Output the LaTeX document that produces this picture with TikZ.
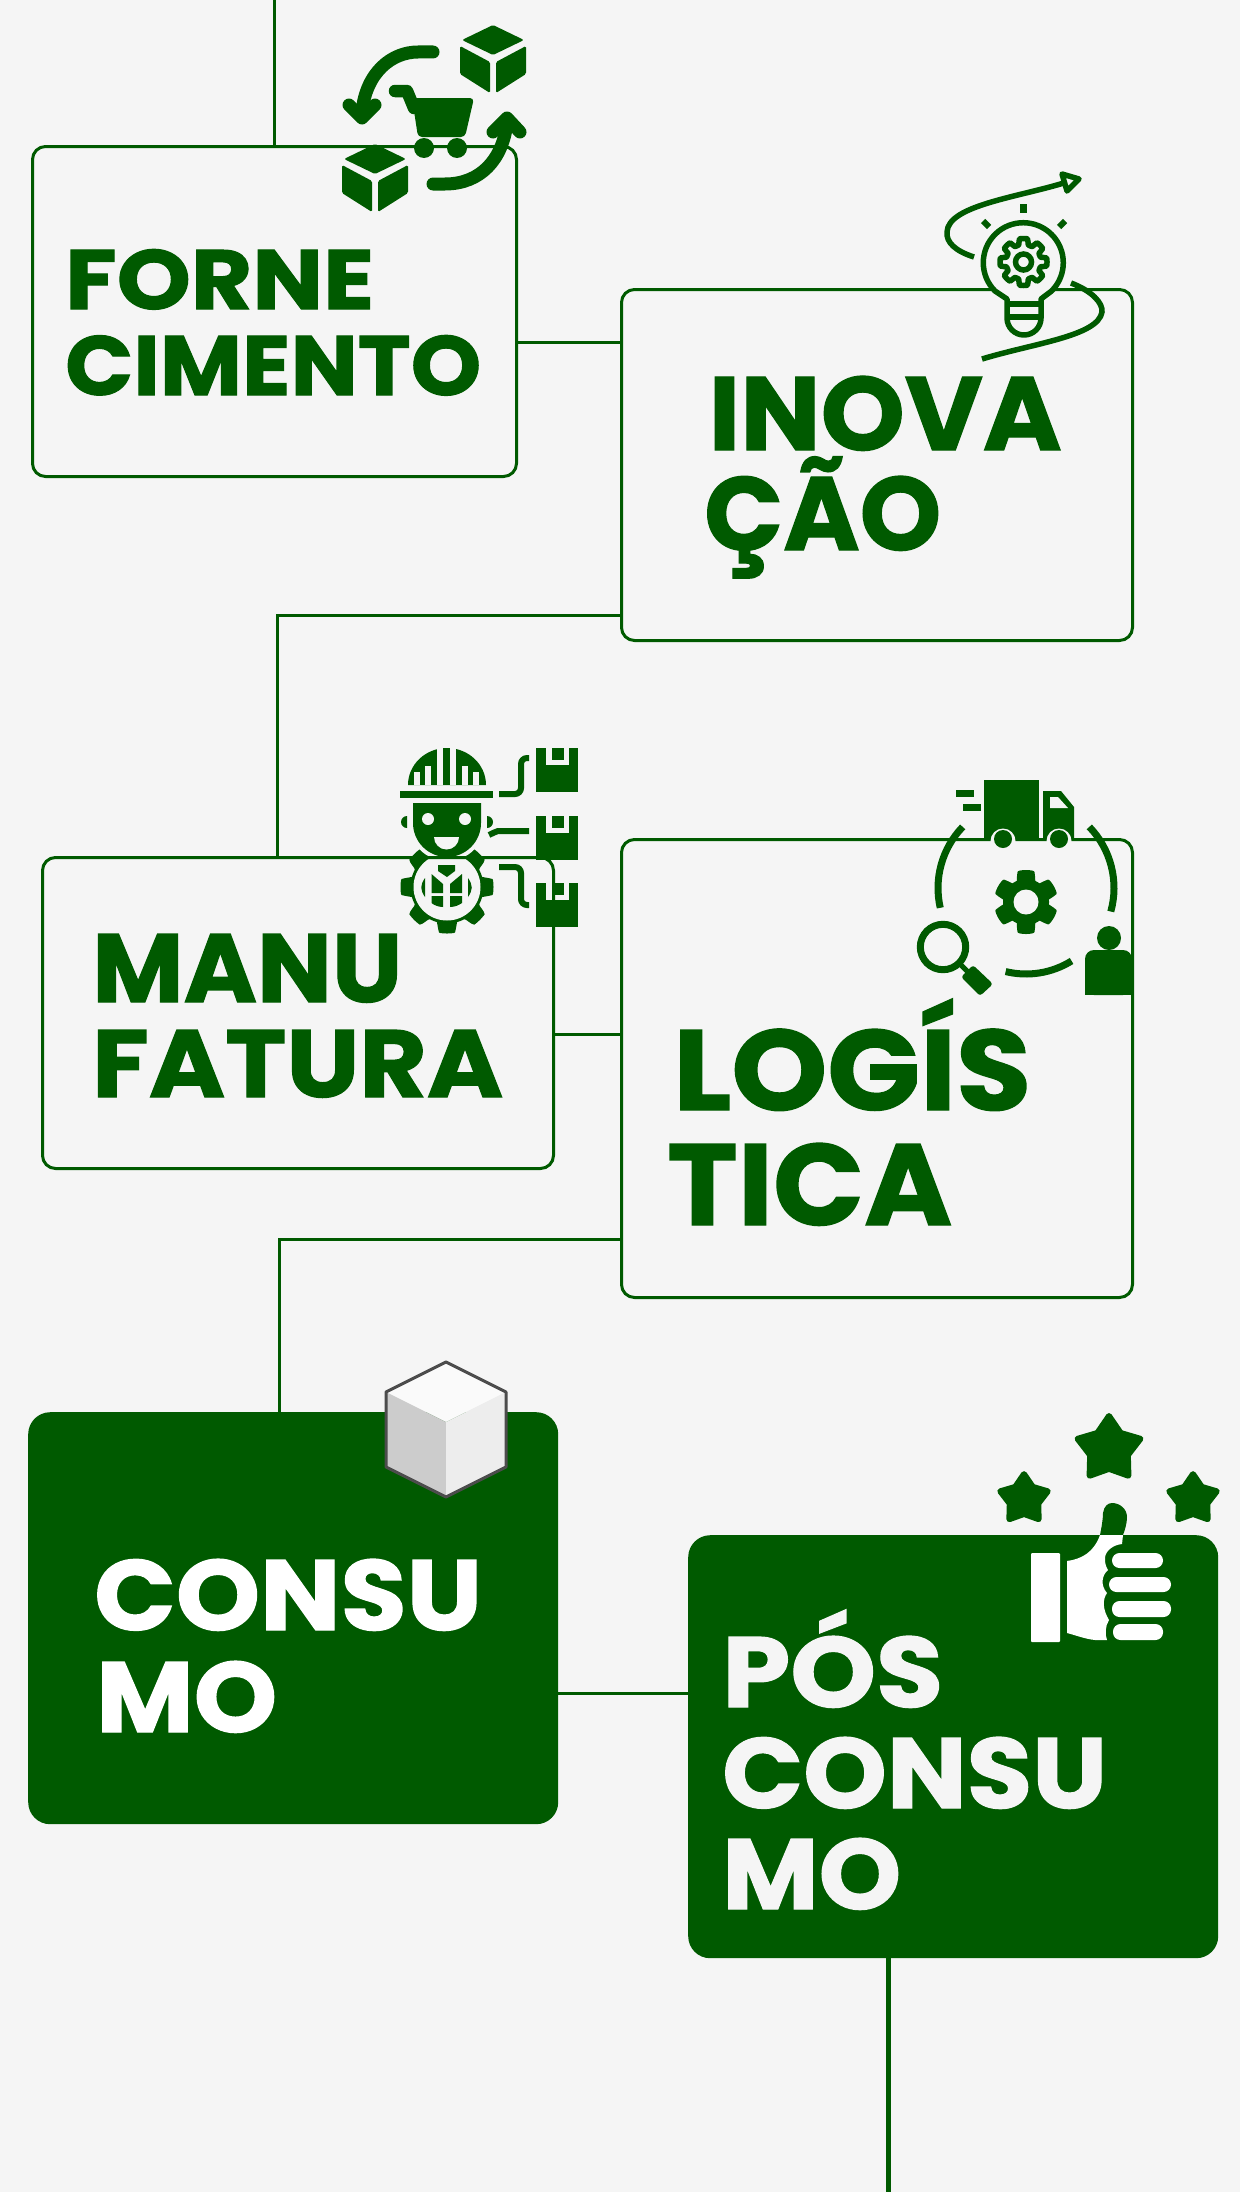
\documentclass[tikz,border=0pt]{standalone}
\usepackage{fontspec}
\usepackage{graphicx}
\setmainfont{Poppins}
\newfontfamily\ttl[BoldFeatures={FakeBold=1.2}]{Poppins}
\definecolor{gr}{HTML}{005A00}
\definecolor{bgc}{HTML}{F5F5F5}
\newcommand\capfix[1]{\setbox0=\hbox{#1}\setbox2=\hbox{H}\ht0=\ht2 \dp0=0pt \box0 }
\newcommand\ttxt[3]{\resizebox{#1pt}{#2pt}{\capfix{#3}}}
\usetikzlibrary{calc}
\tikzset{
 outlinebox/.style={draw=gr,line width=3pt,rounded corners=13pt,inner sep=0pt,anchor=north west},
 solidbox/.style={fill=gr,draw=none,rounded corners=22pt,inner sep=0pt,anchor=north west},
 conn/.style={draw=gr,line width=3pt},
 ttlg/.style={text=gr,inner sep=0pt,anchor=base west,font=\ttl\bfseries\fontsize{80}{80}\selectfont},
 ttlw/.style={ttlg,text=white},
 ttlo/.style={ttlg,text=bgc},
 icl/.style={draw=gr,line width=6pt},
 arrowl/.style={draw=gr,line width=13pt,line cap=round,line join=round},
 cubeicon/.pic={
  \fill[gr,rounded corners=1.5pt] (0,0)--(31,15)--(0,30)--(-31,15)--cycle;
  \fill[gr,rounded corners=1.5pt] (-33,21)--(-3,37)--(-3,68)--(-33,49)--cycle;
  \fill[gr,rounded corners=1.5pt] (3,37)--(33,21)--(33,49)--(3,68)--cycle;
 },
 stariconp/.pic={
  \filldraw[gr,line width=6pt,line join=round] (-90:30)--(-54:18)--(-18:30)--(18:18)--(54:30)--(90:18)--(126:30)--(162:18)--(198:30)--(234:18)--cycle;
 },
 packagep/.pic={
  \fill[gr] (0,0) rectangle (42,44);
  \fill[bgc] (10,0) rectangle (33,17);
  \fill[gr] (16,0) rectangle (28,12);
 },
}
\begin{document}
\begin{tikzpicture}[x=1pt,y=-1pt]
\fill[bgc] (0,0) rectangle (1240,2192);
\useasboundingbox (0,0) rectangle (1240,2192);

% ---------- manufacturing icon (below box line)
\fill[gr,shift={(447,887)}] plot[domain=0:360,samples=181] (\x:{41.5+5*max(-1,min(1,2.5*cos(8*\x)+0.5))}) -- cycle;
\fill[bgc] (447,887) circle (33.5);
\fill[bgc] (447,823) circle (38);
\fill[gr] (408,785) arc[start angle=180,end angle=360,x radius=39,y radius=37] -- cycle;
\fill[bgc] (437,745) rectangle (443,785);
\fill[bgc] (450,745) rectangle (456,785);
\fill[bgc] (414,772) rectangle (420,785);
\fill[bgc] (425,766) rectangle (431,785);
\fill[bgc] (462,766) rectangle (468,785);
\fill[bgc] (473,772) rectangle (479,785);
\fill[gr] (400,791) rectangle (493,798);
\fill[bgc] (398,799) rectangle (495,803);
\fill[gr] (413,803) -- (481,803) -- (481,823) arc[start angle=0,end angle=180,radius=34] -- cycle;
\fill[bgc] (428,819) circle (6);
\fill[bgc] (465,819) circle (6);
\fill[bgc] (434,837) -- (459,837) arc[start angle=0,end angle=180,radius=12.5] -- cycle;
\fill[gr] (407,816) arc[start angle=90,end angle=270,x radius=6,y radius=-6] -- cycle;
\fill[gr] (487,816) arc[start angle=90,end angle=-90,x radius=6,y radius=-6] -- cycle;
\draw[icl] (489,835) .. controls (493,833) and (495,832) .. (498,831) -- (529,831);
\fill[gr] (438,865) -- (455,865) -- (455,871) -- (447,877) -- (438,871) -- cycle;
\fill[gr] (431.5,874) -- (443,884) -- (443,893) -- (431.5,893) -- cycle;
\fill[gr] (462,874) -- (450,884) -- (450,893) -- (462,893) -- cycle;
\fill[gr] (431.5,896) -- (443,896) -- (443,907) .. controls (438,907) and (434,905) .. (431.5,903) -- cycle;
\fill[gr] (462,896) -- (450,896) -- (450,907) .. controls (455,907) and (459,905) .. (462,903) -- cycle;
\fill[gr] (425,878) .. controls (420,885) and (420,890) .. (425,897) -- cycle;
\fill[gr] (468,878) .. controls (473,885) and (473,890) .. (468,897) -- cycle;
\draw[icl,rounded corners=6pt] (499,794) -- (521,794) -- (521,758) -- (529,758);
\draw[icl,rounded corners=6pt] (499,867) -- (521,867) -- (521,905) -- (529,905);
\pic at (536,748) {packagep};
\pic at (536,816) {packagep};
\pic at (536,883) {packagep};

% ---------- boxes
\node[outlinebox,minimum width=484pt,minimum height=330pt] (forne) at (31,145) {};
\node[outlinebox,minimum width=511pt,minimum height=351pt] (inova) at (620,288) {};
\node[outlinebox,minimum width=511pt,minimum height=311pt] (manu) at (41,856) {};
\node[outlinebox,minimum width=511pt,minimum height=458pt] (logis) at (620,838) {};
\node[solidbox,minimum width=530pt,minimum height=412pt] (consu) at (28,1412) {};
\node[solidbox,minimum width=530pt,minimum height=423pt] (pos) at (688,1535) {};

% ---------- connectors
\coordinate (topend) at (274,0);
\coordinate (botend) at (888.5,2192);
\coordinate (a1) at (0,342);
\coordinate (a2) at (0,615);
\coordinate (a3) at (0,1034);
\coordinate (a4) at (0,1239);
\coordinate (a5) at (0,1693);
\coordinate (v2) at (277,0);
\coordinate (v4) at (279,0);
\draw[conn] (topend) -- (topend |- forne.north);
\draw[conn] (forne.east |- a1) -- (inova.west |- a1);
\draw[conn] (inova.west |- a2) -- (v2 |- a2) -- (v2 |- manu.north);
\draw[conn] (manu.east |- a3) -- (logis.west |- a3);
\draw[conn] (logis.west |- a4) -- (v4 |- a4) -- (v4 |- consu.north);
\draw[conn] (consu.east |- a5) -- (pos.west |- a5);
\draw[conn,line width=5pt] (botend |- pos.south) -- (botend);

% ---------- cart icon
\draw[arrowl] (433,52) -- (418,52) .. controls (392,52) and (366,72) .. (362,112);
\draw[arrowl] (349,105) -- (362,118) -- (375,105);
\draw[arrowl] (433,184) -- (445,184) .. controls (480,184) and (503,160) .. (507,122);
\draw[arrowl] (493,132) -- (507,118) -- (520,132);
\draw[line width=12.5pt,draw=gr,line cap=round,line join=round] (395,91) -- (407,91) -- (414,108);
\fill[gr,rounded corners=4pt] (412,98) -- (474,98) -- (465,137) -- (418,137) -- cycle;
\fill[gr] (424,148) circle (10);
\fill[gr] (457,148) circle (10);
\pic at (493,25) {cubeicon};
\pic at (375,144) {cubeicon};

% ---------- bulb icon
\draw[icl,line width=5.5pt] (974,257) .. controls (955,251) and (946,242) .. (947,232) .. controls (948,205) and (1020,197) .. (1067,182);
\filldraw[draw=gr,fill=bgc,line width=5.5pt,line join=round] (1062,174) -- (1079,179) -- (1067,191) -- cycle;
\fill[gr] (1020,204) rectangle (1027,213);
\draw[icl] (983,221) -- (989,227);
\draw[icl] (1065,221) -- (1059,227);
\filldraw[draw=gr,fill=bgc,line width=5.5pt,line join=round] (995,291) arc[start angle=135,end angle=405,radius=40] -- (1041,299) -- (1041,318) arc[start angle=0,end angle=180,radius=17] -- (1007,299) -- cycle;
\draw[gr,line width=5.5pt] (1007,304) -- (1041,304);
\draw[gr,line width=5.5pt] (1007,317) -- (1041,317);
\draw[gr,line width=5.5pt,line join=round,shift={(1023.5,262)}] plot[domain=0:360,samples=145] (\x:{20.5+3*max(-1,min(1,2.5*cos(8*\x)+0.5))}) -- cycle;
\draw[gr,line width=5.5pt] (1023.5,262) circle (8);
\draw[icl,line width=5.5pt] (1071,283) .. controls (1092,291) and (1103,303) .. (1102,312) .. controls (1098,336) and (1035,343) .. (982,359);

% ---------- logistics icon
\fill[gr] (956,790) rectangle (974,797);
\fill[gr] (963,804) rectangle (981,811);
\fill[gr] (984,780) rectangle (1039,839);
\fill[gr] (1043,791) -- (1061,791) -- (1074,807) -- (1074,839) -- (1043,839) -- cycle;
\fill[bgc] (1050,797) -- (1058,797) -- (1068,808) -- (1050,808) -- cycle;
\fill[bgc] (1003,841) circle (12.5);
\fill[bgc] (1059,841) circle (12.5);
\fill[gr] (1003,839) circle (9);
\fill[gr] (1059,839) circle (9);
\draw[gr,line width=7pt] (1026,888) ++(224:88) arc[start angle=224,end angle=167,radius=88];
\draw[gr,line width=7pt] (1026,888) ++(-44:88) arc[start angle=-44,end angle=15.5,radius=88];
\draw[gr,line width=7pt] (1026,888) ++(103.7:86) arc[start angle=103.7,end angle=58,radius=86];
\filldraw[draw=gr,fill=gr,line width=2pt,line join=round,shift={(1026,902)}] plot[domain=0:360,samples=181] (\x:{26.5+4.5*max(-1,min(1,2.5*cos(6*(\x+30))+0.7))}) -- cycle;
\fill[bgc] (1026,902) circle (12.5);
\draw[gr,line width=7pt] (943,947) circle (22.7);
\draw[gr,line width=5pt] (960,964) -- (970,974);
\fill[gr,rounded corners=3pt] (973,965) -- (993,984) -- (980,996) -- (961,977) -- cycle;
\fill[gr] (1109,938) circle (12);
\fill[gr,rounded corners=9pt] (1085,995) -- (1085,950) -- (1132,950) -- (1132,995) -- cycle;
\fill[gr] (1085,980) rectangle (1132,995);

% ---------- consumption cube
\fill[white!98!black] (446,1362) -- (506,1392) -- (446,1422) -- (386,1392) -- cycle;
\fill[black!20] (386,1392) -- (446,1422) -- (446,1497) -- (386,1467) -- cycle;
\fill[black!7] (506,1392) -- (446,1422) -- (446,1497) -- (506,1467) -- cycle;
\draw[black!70,line width=3pt,line join=round] (446,1362) -- (506,1392) -- (506,1467) -- (446,1497) -- (386,1467) -- (386,1392) -- cycle;

% ---------- thumb icon
\pic[scale=1.1] at (1109,1449) {stariconp};
\pic[scale=.83] at (1024,1499) {stariconp};
\pic[scale=.83] at (1193,1499) {stariconp};
\fill[gr] (1100,1535) .. controls (1102,1525) and (1103,1518) .. (1103,1513) .. controls (1104,1506) and (1108,1503) .. (1112,1503) .. controls (1120,1503) and (1127,1509) .. (1127,1517) .. controls (1127,1523) and (1125,1530) .. (1123,1535) -- cycle;
\fill[white] (1067,1561) .. controls (1082,1559) and (1094,1552) .. (1100,1535) -- (1123,1535) -- (1122,1544) .. controls (1112,1545) and (1104,1552) .. (1105,1560) .. controls (1105,1563) and (1106,1567) .. (1108,1570) .. controls (1102,1575) and (1100,1585) .. (1107,1593) .. controls (1102,1600) and (1103,1610) .. (1109,1620) .. controls (1105,1626) and (1105,1635) .. (1107,1640) -- (1095,1640) .. controls (1085,1639) and (1075,1635) .. (1067,1633) -- cycle;
\fill[white,rounded corners=1pt] (1031,1553) rectangle (1060,1642);
\fill[white,rounded corners=7.5pt] (1112,1553) rectangle (1163,1568);
\fill[white,rounded corners=7.5pt] (1109,1577) rectangle (1171,1592);
\fill[white,rounded corners=7.5pt] (1112,1601) rectangle (1171,1617);
\fill[white,rounded corners=7.5pt] (1113,1624) rectangle (1163,1640);

% ---------- titles
\node[ttlg] (t1) at (65,309) {\ttxt{309}{59}{FORNE}};
\node[ttlg] (t2) at (65,395) {\ttxt{416}{59}{CIMENTO}};
\node[ttlg] (t3) at (708.5,450) {\ttxt{353}{73}{INOVA}};
\node[ttlg] (t4) at (704,550) {\ttxt{237}{73}{ÇÃO}};
\node[ttlg] (t5) at (92,1002) {\ttxt{310}{68}{MANU}};
\node[ttlg] (t6) at (92,1097) {\ttxt{411}{67}{FATURA}};
\node[ttlg] (t7) at (673,1110) {\ttxt{358}{80}{LOGÍS}};
\node[ttlg] (t8) at (667,1225) {\ttxt{285}{81}{TICA}};
\node[ttlw] (t9) at (94,1630) {\ttxt{388}{70}{CONSU}};
\node[ttlw] (t10) at (96,1732) {\ttxt{181}{70}{MO}};
\node[ttlo] (t11) at (722,1707) {\ttxt{221}{70}{PÓS}};
\node[ttlo] (t12) at (722,1808) {\ttxt{385}{70}{CONSU}};
\node[ttlo] (t13) at (722,1909) {\ttxt{179}{70}{MO}};
\end{tikzpicture}
\end{document}
